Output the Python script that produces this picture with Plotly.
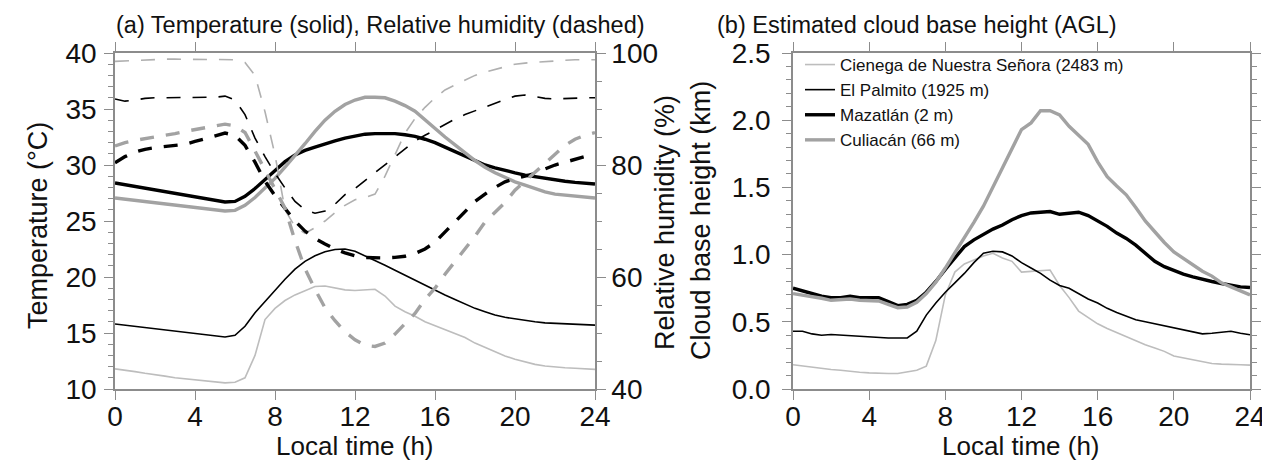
import plotly.graph_objects as go

# ---------------- data ----------------
hours = [i * 0.5 for i in range(49)]

# Panel (a): temperature (deg C)
t_cienega = [11.8, 11.7, 11.55, 11.4, 11.3, 11.15, 11.0, 10.9, 10.8, 10.7, 10.6, 10.55, 10.6, 11.0, 13.0, 16.2,
             17.2, 17.9, 18.4, 18.8, 19.15, 19.2, 19.05, 18.85, 18.8, 18.85, 18.9, 18.3, 17.4, 16.9, 16.5, 16.0,
             15.65, 15.35, 15.0, 14.6, 14.1, 13.7, 13.3, 12.95, 12.65, 12.4, 12.2, 12.05, 11.95, 11.9, 11.85, 11.8, 11.75]
t_palmito = [15.8, 15.7, 15.6, 15.5, 15.4, 15.3, 15.2, 15.1, 15.0, 14.9, 14.75, 14.65, 14.8, 15.6, 16.8, 17.8,
             18.9, 19.8, 20.7, 21.4, 21.9, 22.25, 22.45, 22.5, 22.3, 21.9, 21.5, 21.05, 20.6, 20.15, 19.7, 19.25,
             18.8, 18.4, 18.0, 17.6, 17.2, 16.9, 16.6, 16.4, 16.25, 16.1, 16.0, 15.9, 15.85, 15.8, 15.8, 15.75, 15.7]
t_mazatlan = [28.4, 28.25, 28.1, 27.95, 27.8, 27.6, 27.45, 27.3, 27.15, 27.0, 26.85, 26.7, 26.75, 27.2, 27.9, 28.7,
              29.5, 30.3, 30.9, 31.3, 31.6, 31.9, 32.15, 32.4, 32.6, 32.75, 32.8, 32.8, 32.8, 32.7, 32.55, 32.3,
              32.0, 31.6, 31.2, 30.8, 30.35, 30.0, 29.75, 29.5, 29.3, 29.1, 28.95, 28.8, 28.7, 28.55, 28.45, 28.35, 28.3]
t_culiacan = [27.05, 26.95, 26.85, 26.75, 26.65, 26.55, 26.45, 26.35, 26.25, 26.1, 26.0, 25.9, 25.95, 26.4, 27.1, 27.9,
              28.8, 29.8, 30.8, 31.9, 33.0, 34.0, 34.8, 35.4, 35.8, 36.05, 36.05, 36.0, 35.7, 35.3, 34.8, 34.0,
              33.2, 32.5, 31.8, 31.1, 30.4, 29.8, 29.3, 28.9, 28.5, 28.2, 27.9, 27.6, 27.4, 27.3, 27.2, 27.1, 27.05]

# Panel (a): relative humidity (%)
rh_cienega = [98.5, 98.6, 98.7, 98.8, 98.9, 98.9, 98.9, 98.9, 98.8, 98.8, 98.8, 98.8, 98.8, 98.3, 96.0, 89.5,
              81.8, 72.0, 69.0, 67.8, 68.8, 70.0, 71.5, 72.8, 73.8, 74.2, 74.8, 78.0, 82.0, 85.7, 88.3, 90.3,
              92.0, 93.4, 94.3, 95.2, 96.0, 96.6, 97.1, 97.6, 98.0, 98.2, 98.35, 98.5, 98.6, 98.7, 98.8, 98.8, 98.8]
rh_palmito = [91.8, 91.4, 91.6, 91.9, 92.0, 92.0, 92.0, 92.0, 92.0, 92.0, 92.1, 92.3, 91.6, 89.0, 84.8, 81.5,
              78.5, 75.9, 73.5, 72.0, 71.4, 71.8, 73.0, 74.7, 75.8, 77.2, 78.6, 80.0, 81.5, 82.9, 84.3, 85.3,
              86.3, 87.3, 88.2, 89.0, 89.7, 90.3, 91.0, 91.7, 92.3, 92.5, 92.2, 91.9, 91.8, 91.9, 92.0, 92.0, 92.0]
rh_mazatlan = [80.4, 81.5, 82.3, 82.8, 83.1, 83.3, 83.4, 83.7, 84.2, 84.7, 85.2, 85.7, 85.3, 83.5, 80.5, 77.1,
               74.5, 72.3, 70.0, 68.2, 66.9, 65.9, 65.0, 64.3, 63.8, 63.5, 63.4, 63.4, 63.5, 63.7, 64.2, 65.0,
               66.2, 68.0, 69.8, 71.7, 73.5, 74.8, 76.0, 77.0, 77.6, 78.0, 78.5, 79.3, 80.0, 80.5, 81.0, 81.5, 82.0]
rh_culiacan = [83.4, 84.0, 84.4, 84.7, 84.9, 85.2, 85.6, 86.0, 86.3, 86.6, 87.0, 87.3, 87.0, 85.8, 82.5, 79.0,
               75.5, 72.3, 66.5, 61.5, 57.8, 54.5, 52.2, 50.2, 48.8, 47.8, 47.6, 48.2, 49.8, 51.6, 53.5, 56.0,
               58.0, 60.5, 62.7, 64.9, 67.3, 69.8, 71.6, 73.3, 75.5, 77.1, 78.8, 80.5, 82.0, 83.5, 84.6, 85.3, 85.8]

# Panel (b): estimated cloud base height (km)
cb_cienega = [0.18, 0.17, 0.16, 0.15, 0.145, 0.14, 0.13, 0.125, 0.12, 0.115, 0.115, 0.115, 0.125, 0.14, 0.17, 0.36,
              0.70, 0.87, 0.93, 0.96, 0.99, 1.01, 0.975, 0.95, 0.87, 0.875, 0.88, 0.885, 0.77, 0.68, 0.58, 0.53,
              0.485, 0.45, 0.42, 0.385, 0.36, 0.33, 0.305, 0.28, 0.245, 0.23, 0.215, 0.20, 0.19, 0.185, 0.18, 0.18, 0.178]
cb_palmito = [0.43, 0.43, 0.41, 0.40, 0.405, 0.40, 0.395, 0.39, 0.39, 0.385, 0.38, 0.38, 0.38, 0.43, 0.55, 0.64,
              0.72, 0.79, 0.86, 0.94, 1.01, 1.025, 1.02, 0.99, 0.94, 0.90, 0.86, 0.81, 0.77, 0.75, 0.71, 0.67,
              0.64, 0.60, 0.57, 0.54, 0.515, 0.50, 0.485, 0.465, 0.45, 0.435, 0.42, 0.41, 0.415, 0.425, 0.43, 0.415, 0.404]
cb_mazatlan = [0.75, 0.73, 0.71, 0.69, 0.68, 0.68, 0.69, 0.68, 0.68, 0.68, 0.65, 0.62, 0.63, 0.66, 0.72, 0.80,
               0.89, 0.98, 1.06, 1.11, 1.15, 1.19, 1.22, 1.26, 1.29, 1.31, 1.315, 1.32, 1.30, 1.31, 1.315, 1.29,
               1.25, 1.21, 1.16, 1.12, 1.07, 1.01, 0.95, 0.91, 0.88, 0.855, 0.835, 0.815, 0.80, 0.785, 0.77, 0.76, 0.755]
cb_culiacan = [0.71, 0.70, 0.69, 0.675, 0.66, 0.665, 0.67, 0.66, 0.66, 0.655, 0.63, 0.605, 0.61, 0.645, 0.71, 0.795,
               0.90, 1.01, 1.12, 1.24, 1.36, 1.50, 1.64, 1.78, 1.93, 1.98, 2.07, 2.07, 2.04, 1.955, 1.89, 1.82,
               1.69, 1.58, 1.51, 1.445, 1.35, 1.25, 1.17, 1.09, 1.02, 0.97, 0.92, 0.876, 0.84, 0.79, 0.76, 0.73, 0.70]

station_names = ["Cienega de Nuestra Señora (2483 m)", "El Palmito (1925 m)", "Mazatlán (2 m)", "Culiacán (66 m)"]
x_ticks = [0, 4, 8, 12, 16, 20, 24]

# ---------------- styles ----------------
FONT = "Liberation Sans, Arial, Helvetica, sans-serif"
LIGHT = "#bdbdbd"
MID = "#a2a2a2"
BLACK = "#000000"
AXC = "#8c8c8c"
styles = [
    dict(color=LIGHT, width=1.6),
    dict(color=BLACK, width=1.6),
    dict(color=BLACK, width=3.4),
    dict(color=MID, width=3.4),
]
DASH = "14px,12px"

fig = go.Figure()

# panel (a) temperature (solid)
for vals, st in zip([t_cienega, t_palmito, t_mazatlan, t_culiacan], styles):
    fig.add_trace(go.Scatter(x=hours, y=vals, mode="lines", line=st, showlegend=False,
                             xaxis="x", yaxis="y", hoverinfo="skip"))
# panel (a) relative humidity (dashed)
for vals, st in zip([rh_cienega, rh_palmito, rh_mazatlan, rh_culiacan], styles):
    s = dict(st)
    s["dash"] = DASH
    if s["color"] == LIGHT:
        s["color"] = "#b0b0b0"
    fig.add_trace(go.Scatter(x=hours, y=vals, mode="lines", line=s, showlegend=False,
                             xaxis="x", yaxis="y2", hoverinfo="skip"))
# panel (b) cloud base height
for vals, st, name in zip([cb_cienega, cb_palmito, cb_mazatlan, cb_culiacan], styles, station_names):
    fig.add_trace(go.Scatter(x=hours, y=vals, mode="lines", line=st, name=name, showlegend=True,
                             xaxis="x2", yaxis="y3", hoverinfo="skip"))

TICKFONT = dict(family=FONT, size=28, color="#111111")
YD = [1 - 381 / 468, 1 - 45 / 468]
X1 = [107 / 1270, 587 / 1270]
X2 = [785 / 1270, 1242 / 1270]

common_x = dict(range=[0, 24], tickvals=x_ticks, ticks="outside", ticklen=9, tickwidth=1.3, tickcolor=AXC,
                showline=True, linecolor=AXC, linewidth=1.5, mirror="allticks", showgrid=False,
                zeroline=False, tickfont=TICKFONT, automargin=False, ticklabelstandoff=-7)

fig.update_layout(
    width=1270, height=468,
    margin=dict(l=0, r=0, t=0, b=0, pad=0, autoexpand=False),
    paper_bgcolor="white", plot_bgcolor="white",
    font=dict(family=FONT, color="#111111"),
    xaxis=dict(domain=X1, anchor="y", **common_x),
    xaxis2=dict(domain=X2, anchor="y3", **common_x),
    yaxis=dict(domain=YD, anchor="x", range=[10, 40], dtick=5, tick0=10, ticks="outside", ticklen=9,
               tickwidth=1.3, tickcolor=AXC, showline=True, linecolor=AXC, linewidth=1.5, showgrid=False,
               zeroline=False, tickfont=TICKFONT, automargin=False, ticklabelstandoff=2,
               minor=dict(dtick=1, ticks="outside", ticklen=5, tickcolor=AXC, tickwidth=1.1, showgrid=False)),
    yaxis2=dict(overlaying="y", side="right", anchor="x", range=[40, 100], dtick=20, tick0=40,
                ticks="outside", ticklen=9, tickwidth=1.3, tickcolor=AXC, showline=True, linecolor=AXC,
                linewidth=1.5, showgrid=False, zeroline=False, tickfont=TICKFONT, automargin=False,
                minor=dict(dtick=5, ticks="outside", ticklen=5, tickcolor=AXC, tickwidth=1.1, showgrid=False)),
    yaxis3=dict(domain=YD, anchor="x2", range=[0, 2.5], dtick=0.5, tick0=0, tickformat=".1f",
                ticks="outside", ticklen=9, tickwidth=1.3, tickcolor=AXC, showline=True, linecolor=AXC,
                linewidth=1.5, mirror="allticks", showgrid=False, zeroline=False, tickfont=TICKFONT,
                automargin=False, ticklabelstandoff=6,
                minor=dict(dtick=0.1, ticks="outside", ticklen=5, tickcolor=AXC, tickwidth=1.1, showgrid=False)),
    legend=dict(x=792 / 1270, y=1 - 39 / 468, xanchor="left", yanchor="top",
                bgcolor="rgba(0,0,0,0)", borderwidth=0,
                font=dict(family=FONT, size=17, color="#111111"), tracegroupgap=0),
)

ann = [
    dict(text="(a) Temperature (solid), Relative humidity (dashed)", x=372 / 1270, y=1 - 2 / 468, size=23.5,
         yanchor="top"),
    dict(text="(b) Estimated cloud base height (AGL)", x=909 / 1270, y=1 - 2 / 468, size=23.5, yanchor="top"),
    dict(text="Local time (h)", x=347 / 1270, y=1 - 438 / 468, size=26),
    dict(text="Local time (h)", x=1013 / 1270, y=1 - 438 / 468, size=26),
    dict(text="Temperature (°C)", x=30 / 1270, y=1 - 218 / 468, size=27, angle=-90),
    dict(text="Relative humidity (%)", x=657 / 1270, y=1 - 215 / 468, size=27, angle=-90),
    dict(text="Cloud base height (km)", x=693 / 1270, y=1 - 213 / 468, size=27, angle=-90),
]
for a in ann:
    fig.add_annotation(text=a["text"], x=a["x"], y=a["y"], xref="paper", yref="paper",
                       xanchor="center", yanchor=a.get("yanchor", "middle"), showarrow=False,
                       textangle=a.get("angle", 0),
                       font=dict(family=FONT, size=a["size"], color="#111111"))

fig.write_html("out.html")
